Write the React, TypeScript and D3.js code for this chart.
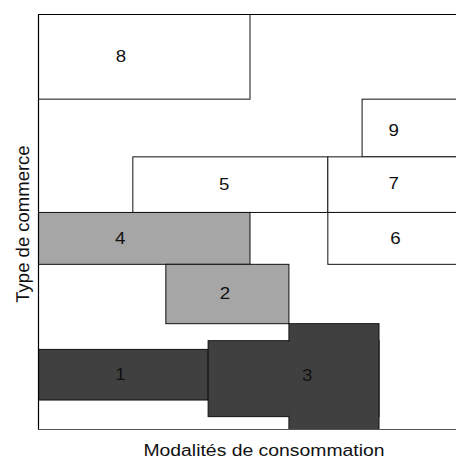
import React from "react";
import * as d3 from "d3";

// Rectangles of the diagram (data units: x 0–10 "Modalités", y 0–10 "Type de commerce")
const rectIds = ["8", "9", "5", "7", "6", "4", "2", "1", "3", "3"];
const rectX0 = [0, 7.65, 2.23, 6.84, 6.84, 0, 3.01, 0, 4.01, 5.92];
const rectX1 = [5.0, 10.5, 6.84, 10.5, 10.5, 5.0, 5.92, 4.01, 8.05, 8.05];
const rectY0 = [7.96, 6.57, 5.23, 5.23, 3.98, 3.98, 2.55, 0.71, 0.31, 0];
const rectY1 = [10, 7.96, 6.57, 6.57, 5.23, 5.23, 3.98, 1.93, 2.14, 2.55];
const rectGroup = ["blanc", "blanc", "blanc", "blanc", "blanc", "gris", "gris", "fonce", "fonce", "fonce"];

// Labels
const labelText = ["8", "5", "9", "7", "6", "4", "2", "1", "3"];
const labelX = [1.95, 4.39, 8.4, 8.4, 8.44, 1.93, 4.41, 1.94, 6.35];
const labelY = [9.0, 5.91, 7.22, 5.94, 4.62, 4.61, 3.3, 1.34, 1.31];

const xTitle = "Modalités de consommation";
const yTitle = "Type de commerce";

const fills: Record<string, string> = {
  blanc: "#ffffff",
  gris: "#a6a6a6",
  fonce: "#404040",
};

const W = 456;
const H = 459;
const FONT = "Arial, 'Liberation Sans', Helvetica, sans-serif";

export default function App() {
  const x = d3.scaleLinear().domain([0, 10]).range([38.5, 461.5]);
  const y = d3.scaleLinear().domain([0, 10]).range([429.5, 14.5]);

  const rects = rectIds.map((id, i) => ({
    id,
    x0: x(rectX0[i]),
    x1: x(rectX1[i]),
    y0: y(rectY1[i]),
    y1: y(rectY0[i]),
    fill: fills[rectGroup[i]],
  }));

  const order = Array.from(new Set(rectIds));

  return (
    <svg
      width={W}
      height={H}
      style={{ position: "absolute", left: 0, top: 0, background: "#fff" }}
      fontFamily={FONT}
    >
      <rect x={0} y={0} width={W} height={H} fill="#fff" />
      {order.map((id) => {
        const parts = rects.filter((r) => r.id === id);
        return (
          <g key={id}>
            {parts.map((r, k) => (
              <rect
                key={"s" + k}
                x={r.x0}
                y={r.y0}
                width={r.x1 - r.x0}
                height={r.y1 - r.y0}
                fill={r.fill}
                stroke="#111"
                strokeWidth={1}
              />
            ))}
            {parts.length > 1 &&
              parts.map((r, k) => (
                <rect
                  key={"f" + k}
                  x={r.x0 + 1}
                  y={r.y0 + 1}
                  width={r.x1 - r.x0 - 2}
                  height={r.y1 - r.y0 - 2}
                  fill={r.fill}
                  stroke="none"
                />
              ))}
          </g>
        );
      })}
      {/* frame lines */}
      <line x1={x(0)} x2={W} y1={y(10)} y2={y(10)} stroke="#000" strokeWidth={1} />
      <line x1={x(0)} x2={W} y1={y(0)} y2={y(0)} stroke="#555" strokeWidth={1.2} />
      <line x1={x(0)} x2={x(0)} y1={y(10)} y2={y(0)} stroke="#000" strokeWidth={1.2} />

      {labelText.map((t, i) => (
        <text
          key={i}
          transform={`translate(${x(labelX[i])},${y(labelY[i])}) scale(1.1,1)`}
          textAnchor="middle"
          dy="0.36em"
          fontSize={17}
          fill="#111"
        >
          {t}
        </text>
      ))}

      <text
        transform={`translate(264,456) scale(1.12,1)`}
        textAnchor="middle"
        fontSize={17.3}
        fill="#111"
      >
        {xTitle}
      </text>
      <text
        transform={`translate(28.5,224) rotate(-90)`}
        textAnchor="middle"
        fontSize={18.5}
        fill="#111"
        style={{ textRendering: "geometricPrecision" }}
      >
        {yTitle}
      </text>
    </svg>
  );
}
